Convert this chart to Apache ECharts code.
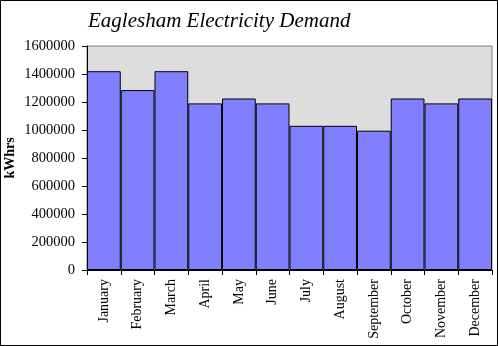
<!DOCTYPE html>
<html><head><meta charset="utf-8">
<script src="https://cdn.jsdelivr.net/npm/echarts@6/dist/echarts.min.js"></script>
<style>html,body{margin:0;padding:0;background:#fff}#c{width:498px;height:346px}</style>
</head><body><div id="c"></div>
<script>
const months = ['January','February','March','April','May','June','July','August','September','October','November','December'];
const demand = [1420000,1285000,1420000,1190000,1225000,1190000,1030000,1030000,995000,1225000,1190000,1225000];
const titleText = 'Eaglesham Electricity Demand';
const yName = 'kWhrs';
const yMin = 0, yMax = 1600000, yStep = 200000;

const chart = echarts.init(document.getElementById('c'), null, {renderer:'canvas'});
const serif = '"Liberation Serif","Times New Roman",serif';
chart.setOption({
  animation:false,
  backgroundColor:'#ffffff',
  title:{text:titleText,left:83,top:6,textStyle:{fontFamily:serif,fontStyle:'italic',fontWeight:'normal',fontSize:21,color:'#000'}},
  grid:{left:87,right:6,top:46,bottom:76,containLabel:false,outerBoundsMode:'none',show:true,backgroundColor:'#dddddd',borderColor:'#808080',borderWidth:1},
  xAxis:{type:'category',data:months,
    axisLine:{lineStyle:{color:'#000',width:1}},
    axisTick:{show:true,alignWithLabel:false,length:5,lineStyle:{color:'#000'}},
    axisLabel:{rotate:90,interval:0,margin:9,fontFamily:serif,fontSize:14,color:'#000'}},
  yAxis:{type:'value',min:yMin,max:yMax,interval:yStep,
    name:yName,nameLocation:'middle',nameRotate:90,nameGap:70,nameMoveOverlap:false,
    nameTextStyle:{fontFamily:serif,fontWeight:'bold',fontSize:14,color:'#000'},
    axisLine:{show:true,lineStyle:{color:'#000',width:1}},
    axisTick:{show:true,length:5,lineStyle:{color:'#000'}},
    splitLine:{show:false},
    axisLabel:{margin:12,fontFamily:serif,fontSize:14.5,color:'#000',formatter:function(v){return String(v);}}},
  series:[{type:'bar',data:demand,barCategoryGap:'0%',
    itemStyle:{color:'#8080ff',borderColor:'#000',borderWidth:1}}],
  graphic:[{type:'rect',shape:{x:0.5,y:0.5,width:497,height:345},style:{fill:null,stroke:'#000',lineWidth:1},z:100}]
});
</script></body></html>
